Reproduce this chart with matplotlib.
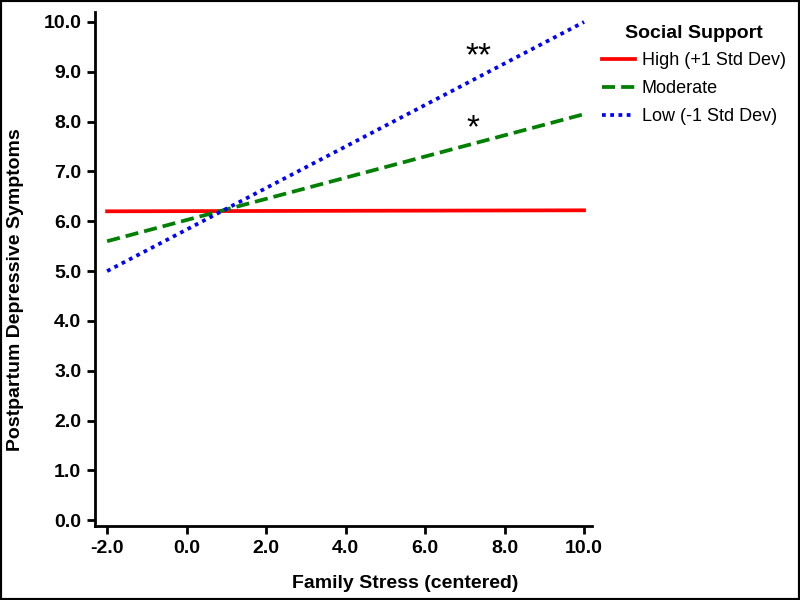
import matplotlib.pyplot as plt
from matplotlib.patches import Rectangle

# ============================================================
# Data
# ============================================================

STRESS = [-2.0, 10.0]

HIGH = [6.2, 6.22]
MODERATE = [5.6, 8.15]
LOW = [5.0, 10.0]

X_TICKS = [-2.0, 0.0, 2.0, 4.0, 6.0, 8.0, 10.0]
Y_TICKS = [0.0, 1.0, 2.0, 3.0, 4.0, 5.0, 6.0, 7.0, 8.0, 9.0, 10.0]

plt.rcParams["font.family"] = ["Liberation Sans", "DejaVu Sans"]

fig = plt.figure(figsize=(8, 6), dpi=100)
ax = fig.add_axes([0.119, 0.123, 0.621, 0.857])

ax.plot(STRESS, HIGH, color="#ff0000", lw=2.7, ls="-",
        label="High (+1 Std Dev)")
ax.plot(STRESS, MODERATE, color="#008000", lw=2.7, ls=(0, (3.5, 1.6)),
        label="Moderate")
ax.plot(STRESS, LOW, color="#0000ff", lw=2.7, ls=(0, (1, 1.2)),
        label="Low (-1 Std Dev)")

ax.text(7.35, 9.3, "**", fontsize=24, ha="center", va="center")
ax.text(7.2, 7.85, "*", fontsize=24, ha="center", va="center")

ax.set_xlim(-2.3, 10.2)
ax.set_ylim(-0.12, 10.2)
ax.set_xticks(X_TICKS)
ax.set_yticks(Y_TICKS)
ax.set_xticklabels([f"{v:.1f}" for v in X_TICKS], fontweight="bold", fontsize=14)
ax.set_yticklabels([f"{v:.1f}" for v in Y_TICKS], fontweight="bold", fontsize=14)

for side in ["top", "right"]:
    ax.spines[side].set_visible(False)
for side in ["left", "bottom"]:
    ax.spines[side].set_linewidth(2)
ax.tick_params(width=2, length=6, color="black", pad=4)

ax.set_xlabel("Family Stress (centered)", fontweight="bold", fontsize=14)
ax.xaxis.set_label_coords(0.624, -0.095)
ax.set_ylabel("Postpartum Depressive Symptoms", fontweight="bold", fontsize=14)
ax.yaxis.set_label_coords(-0.143, 0.46)

leg = ax.legend(loc="upper left", bbox_to_anchor=(0.995, 1.0), frameon=False,
                title="Social Support", fontsize=13, handlelength=1.8,
                handletextpad=0.4, labelspacing=0.6, borderaxespad=0.3)
leg.get_title().set_fontweight("bold")
leg.get_title().set_fontsize(14)

fig.patches.append(Rectangle((0, 0), 1, 1, transform=fig.transFigure,
                             fill=False, edgecolor="black", lw=3))

fig.savefig("out.png", dpi=100)
